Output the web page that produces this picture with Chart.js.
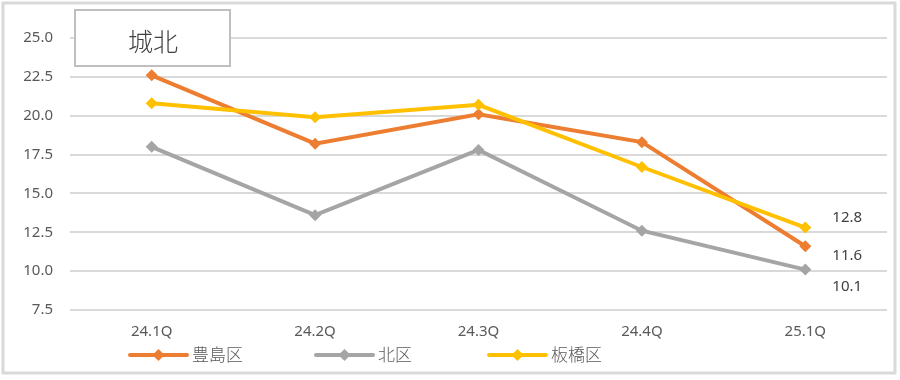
<!DOCTYPE html>
<html>
<head>
<meta charset="utf-8">
<script src="https://cdn.jsdelivr.net/npm/chart.js@4/dist/chart.umd.min.js"></script>
<style>
  html, body { margin: 0; padding: 0; background: #fff; }
  #wrap { width: 900px; height: 380px; position: relative; }
</style>
</head>
<body>
<div id="wrap"><canvas id="myChart" width="900" height="380"></canvas></div>
<script>
const quarters = ['24.1Q', '24.2Q', '24.3Q', '24.4Q', '25.1Q'];
const seriesNames = ['豊島区', '北区', '板橋区'];
const toshima = [22.6, 18.2, 20.1, 18.3, 11.6];
const kita = [18.0, 13.6, 17.8, 12.6, 10.1];
const itabashi = [20.8, 19.9, 20.7, 16.7, 12.8];
const colors = ['#ED7D31', '#A5A5A5', '#FFC000'];
const yTicks = [7.5, 10.0, 12.5, 15.0, 17.5, 20.0, 22.5, 25.0];
const title = '城北';

const jpFont = '"Noto Sans CJK JP", "Noto Sans", sans-serif';
const numFont = '"Noto Sans", "Liberation Sans", sans-serif';

// frame, title box, legend and end labels
const decorPlugin = {
    id: 'decor',
    afterDraw(chart) {
        const ctx = chart.ctx;
        ctx.save();
        // outer frame
        ctx.strokeStyle = '#d9d9d9';
        ctx.lineWidth = 3;
        ctx.strokeRect(3, 3, 892, 370);

        // title box
        ctx.fillStyle = '#fff';
        ctx.fillRect(75, 10, 155, 56);
        ctx.strokeStyle = '#bfbfbf';
        ctx.lineWidth = 2;
        ctx.strokeRect(75, 10, 155, 56);
        ctx.fillStyle = '#404040';
        ctx.font = '300 25px ' + jpFont;
        ctx.textAlign = 'center';
        ctx.textBaseline = 'middle';
        ctx.fillText(title, 153, 41);

        // legend
        const legendX = [130, 316, 489];
        const ly = 355;
        chart.data.datasets.forEach((ds, i) => {
            const x = legendX[i];
            ctx.strokeStyle = ds.borderColor;
            ctx.lineWidth = 4;
            ctx.lineCap = 'round';
            ctx.beginPath();
            ctx.moveTo(x, ly);
            ctx.lineTo(x + 57, ly);
            ctx.stroke();
            ctx.fillStyle = ds.borderColor;
            ctx.beginPath();
            const cx = x + 28.5;
            ctx.moveTo(cx, ly - 6);
            ctx.lineTo(cx + 6, ly);
            ctx.lineTo(cx, ly + 6);
            ctx.lineTo(cx - 6, ly);
            ctx.closePath();
            ctx.fill();
            ctx.fillStyle = '#595959';
            ctx.font = '300 17px ' + jpFont;
            ctx.textAlign = 'left';
            ctx.textBaseline = 'middle';
            ctx.fillText(ds.label, x + 62, ly);
        });

        // last-point labels
        const offsets = [9, 17, -10];
        ctx.fillStyle = '#404040';
        ctx.font = '15px ' + numFont;
        ctx.textAlign = 'left';
        ctx.textBaseline = 'middle';
        chart.data.datasets.forEach((ds, i) => {
            const meta = chart.getDatasetMeta(i);
            const pt = meta.data[meta.data.length - 1];
            const v = ds.data[ds.data.length - 1];
            ctx.fillText(v.toFixed(1), pt.x + 27, pt.y + offsets[i]);
        });
        ctx.restore();
    }
};

const makeDs = (label, data, color, order) => ({
    label: label,
    data: data,
    borderColor: color,
    backgroundColor: color,
    borderWidth: 4,
    pointStyle: 'rectRot',
    pointRadius: 6,
    pointHoverRadius: 6,
    pointBorderWidth: 0,
    tension: 0,
    order: order
});

const ctx = document.getElementById('myChart').getContext('2d');
const myChart = new Chart(ctx, {
    type: 'line',
    data: {
        labels: quarters,
        datasets: [
            makeDs(seriesNames[0], toshima, colors[0], 2),
            makeDs(seriesNames[1], kita, colors[1], 1),
            makeDs(seriesNames[2], itabashi, colors[2], 0)
        ]
    },
    options: {
        responsive: false,
        animation: false,
        layout: { padding: { left: 8, right: 13, top: 38, bottom: 40 } },
        plugins: {
            legend: { display: false },
            tooltip: { enabled: false }
        },
        scales: {
            x: {
                offset: true,
                grid: { display: false },
                border: { display: false },
                ticks: { color: '#595959', font: { family: numFont, size: 15 }, padding: 5 },
                afterFit: s => { s.height = 30; }
            },
            y: {
                min: 7.5,
                max: 25,
                afterBuildTicks: s => { s.ticks = yTicks.map(v => ({ value: v })); },
                grid: { color: '#d9d9d9', lineWidth: 2, drawTicks: false },
                border: { display: false },
                ticks: {
                    color: '#595959',
                    font: { family: numFont, size: 15 },
                    padding: 17,
                    callback: v => v.toFixed(1)
                },
                afterFit: s => { s.width = 62; }
            }
        }
    },
    plugins: [decorPlugin]
});
</script>
</body>
</html>
